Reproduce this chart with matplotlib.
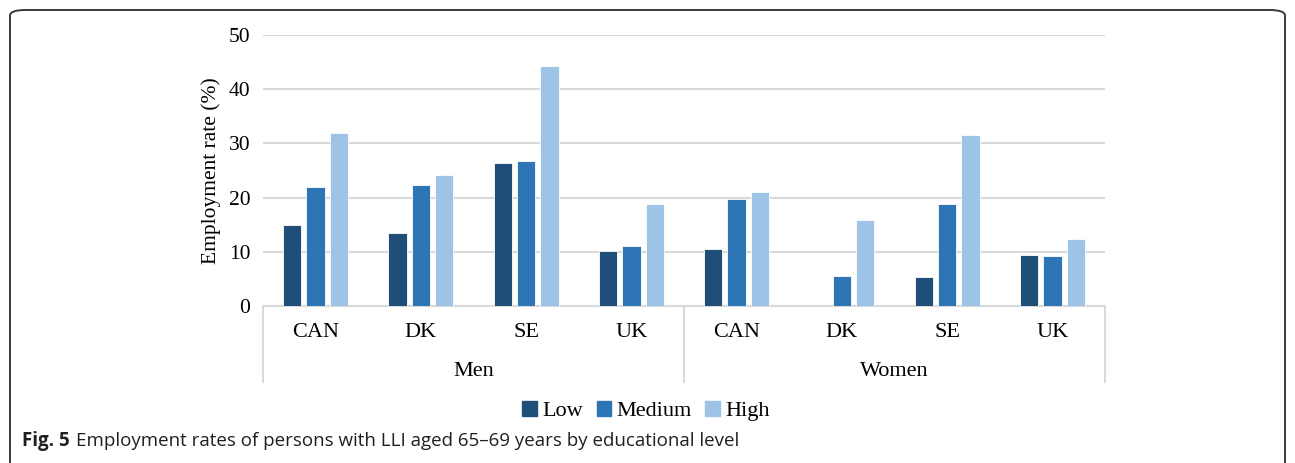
import numpy as np
import matplotlib.pyplot as plt
from matplotlib.patches import FancyBboxPatch, Patch
from matplotlib.lines import Line2D

countries = ['CAN', 'DK', 'SE', 'UK']
sexes = ['Men', 'Women']
levels = ['Low', 'Medium', 'High']

# employment rate (%) per country, Men then Women
low = [14.9, 13.5, 26.4, 10.2, 10.6, 0.0, 5.3, 9.5]
medium = [21.9, 22.3, 26.8, 11.1, 19.7, 5.5, 18.9, 9.2]
high = [31.9, 24.2, 44.2, 18.8, 21.1, 15.8, 31.5, 12.3]

colors = ['#1F4E79', '#2E75B6', '#9DC3E6']
serif = 'Liberation Serif'
fs = 15.5

fig = plt.figure(figsize=(12.95, 4.63), dpi=100)
ax = fig.add_axes([263 / 1295, 1 - 306 / 463, 842 / 1295, 271 / 463])

x = np.arange(len(low))
width = 0.175
step = 0.222
for i, (vals, c, lab) in enumerate(zip([low, medium, high], colors, levels)):
    ax.bar(x + (i - 1) * step, vals, width, color=c, label=lab,
           edgecolor='white', linewidth=0.6, zorder=3)

ax.set_xlim(-0.5, len(low) - 0.5)
ax.set_ylim(0, 50)
ax.set_yticks(range(0, 51, 10))
ax.grid(axis='y', color='#D9D9D9', linewidth=1.5, zorder=0)
for s in ['top', 'right', 'left']:
    ax.spines[s].set_visible(False)
ax.spines['bottom'].set_color('#D9D9D9')
ax.spines['bottom'].set_linewidth(1.5)
ax.tick_params(axis='y', length=0, labelsize=fs, pad=9)
ax.tick_params(axis='x', length=0, labelbottom=False)
for t in ax.get_yticklabels():
    t.set_fontfamily(serif)
ax.set_ylabel('Employment rate (%)', fontsize=fs, fontfamily=serif, labelpad=6)

# two-level category axis
tr = ax.get_xaxis_transform()
for i in range(len(low)):
    ax.text(x[i], -0.098, countries[i % 4], transform=tr, ha='center', va='center',
            fontsize=fs + 0.5, fontfamily=serif)
for j, sex in enumerate(sexes):
    ax.text(j * 4 + 1.5, -0.24, sex, transform=tr, ha='center', va='center',
            fontsize=fs + 0.5, fontfamily=serif)
for xb in [-0.5, 3.5, 7.5]:
    ax.add_line(Line2D([xb, xb], [0, -0.28], transform=tr, color='#D9D9D9',
                       linewidth=1.5, clip_on=False))

handles = [Patch(color=c, label=l) for c, l in zip(colors, levels)]
fig.legend(handles=handles, loc='center', bbox_to_anchor=(646 / 1295, 1 - 411 / 463),
           ncol=3, frameon=False, handlelength=0.65, handleheight=0.65,
           handletextpad=0.25, columnspacing=0.6,
           prop={'family': serif, 'size': fs + 0.5})

# outer panel frame and caption
fig.patches.append(FancyBboxPatch((10 / 1295, -0.05), 1275 / 1295, 1 - 10 / 463 + 0.05,
                                  boxstyle='round,pad=0,rounding_size=0.012',
                                  transform=fig.transFigure, fill=False,
                                  edgecolor='#3A3A3A', linewidth=1.4))
cap_y = 1 - 441 / 463
t1 = fig.text(22 / 1295, cap_y, 'Fig. 5', fontsize=13.5, fontweight='bold',
              fontfamily='Open Sans', va='center', color='#231F20')
fig.canvas.draw()
bb = t1.get_window_extent()
fig.text((bb.x1 + 6) / 1295, cap_y,
         'Employment rates of persons with LLI aged 65\u201369 years by educational level',
         fontsize=13.5, fontfamily='Open Sans', va='center', color='#231F20')

fig.savefig('out.png', dpi=100)
